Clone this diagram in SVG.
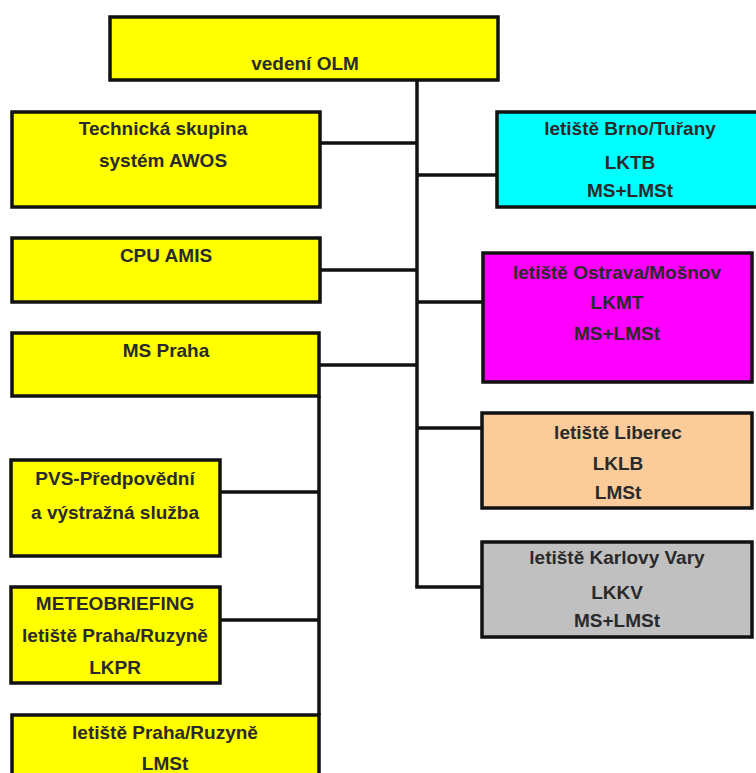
<svg xmlns="http://www.w3.org/2000/svg" width="756" height="773" viewBox="0 0 756 773">
<style>
.box{stroke:#111;stroke-width:3.5}
.y{fill:#ffff00}
.c{fill:#00ffff}
.m{fill:#ff00ff}
.p{fill:#fbcb9a}
.g{fill:#c0c0c0}
text{font-family:"Liberation Sans",Arial,sans-serif;font-weight:bold;font-size:19px;fill:#2a2a2a;text-anchor:middle}
.conn{stroke:#111;stroke-width:3.5;fill:none}
</style>
<rect width="756" height="773" fill="#ffffff"/>
<g id="connectors">
<line class="conn" x1="417" y1="80" x2="417" y2="587"/>
<line class="conn" x1="320" y1="143" x2="417" y2="143"/>
<line class="conn" x1="320" y1="270" x2="417" y2="270"/>
<line class="conn" x1="320" y1="365" x2="417" y2="365"/>
<line class="conn" x1="417" y1="175" x2="497" y2="175"/>
<line class="conn" x1="417" y1="302" x2="483" y2="302"/>
<line class="conn" x1="417" y1="428" x2="482" y2="428"/>
<line class="conn" x1="415.25" y1="587" x2="482" y2="587"/>
<line class="conn" x1="319" y1="396" x2="319" y2="715"/>
<line class="conn" x1="220" y1="492" x2="319" y2="492"/>
<line class="conn" x1="220" y1="620" x2="319" y2="620"/>
</g>
<g id="vedeni">
<rect class="box y" x="110" y="17" width="388" height="63"/>
<text x="305" y="70">vedení OLM</text>
</g>
<g id="technicka">
<rect class="box y" x="12" y="112" width="308" height="95"/>
<text x="163" y="135">Technická skupina</text>
<text x="163" y="167">systém AWOS</text>
</g>
<g id="cpu">
<rect class="box y" x="12" y="238" width="308" height="64"/>
<text x="166" y="262">CPU AMIS</text>
</g>
<g id="msPraha">
<rect class="box y" x="12" y="333" width="307" height="63"/>
<text x="166" y="357">MS Praha</text>
</g>
<g id="pvs">
<rect class="box y" x="11" y="460" width="209" height="96"/>
<text x="115" y="485">PVS-Předpovědní</text>
<text x="115" y="519">a výstražná služba</text>
</g>
<g id="meteobriefing">
<rect class="box y" x="11" y="587" width="209" height="96"/>
<text x="115" y="610">METEOBRIEFING</text>
<text x="115" y="642">letiště Praha/Ruzyně</text>
<text x="115" y="674">LKPR</text>
</g>
<g id="prahaLMSt">
<rect class="box y" x="12" y="715" width="307" height="80"/>
<text x="165" y="739">letiště Praha/Ruzyně</text>
<text x="165" y="770">LMSt</text>
</g>
<g id="brno">
<rect class="box c" x="497" y="112" width="270" height="95"/>
<text x="630" y="135">letiště Brno/Tuřany</text>
<text x="630" y="169">LKTB</text>
<text x="630" y="197">MS+LMSt</text>
</g>
<g id="ostrava">
<rect class="box m" x="483" y="253" width="269" height="129"/>
<text x="617" y="279">letiště Ostrava/Mošnov</text>
<text x="617" y="309">LKMT</text>
<text x="617" y="340">MS+LMSt</text>
</g>
<g id="liberec">
<rect class="box p" x="482" y="413" width="270" height="95"/>
<text x="618" y="439">letiště Liberec</text>
<text x="618" y="470">LKLB</text>
<text x="618" y="499">LMSt</text>
</g>
<g id="karlovyVary">
<rect class="box g" x="482" y="542" width="270" height="95"/>
<text x="617" y="564">letiště Karlovy Vary</text>
<text x="617" y="599">LKKV</text>
<text x="617" y="627">MS+LMSt</text>
</g>
</svg>
